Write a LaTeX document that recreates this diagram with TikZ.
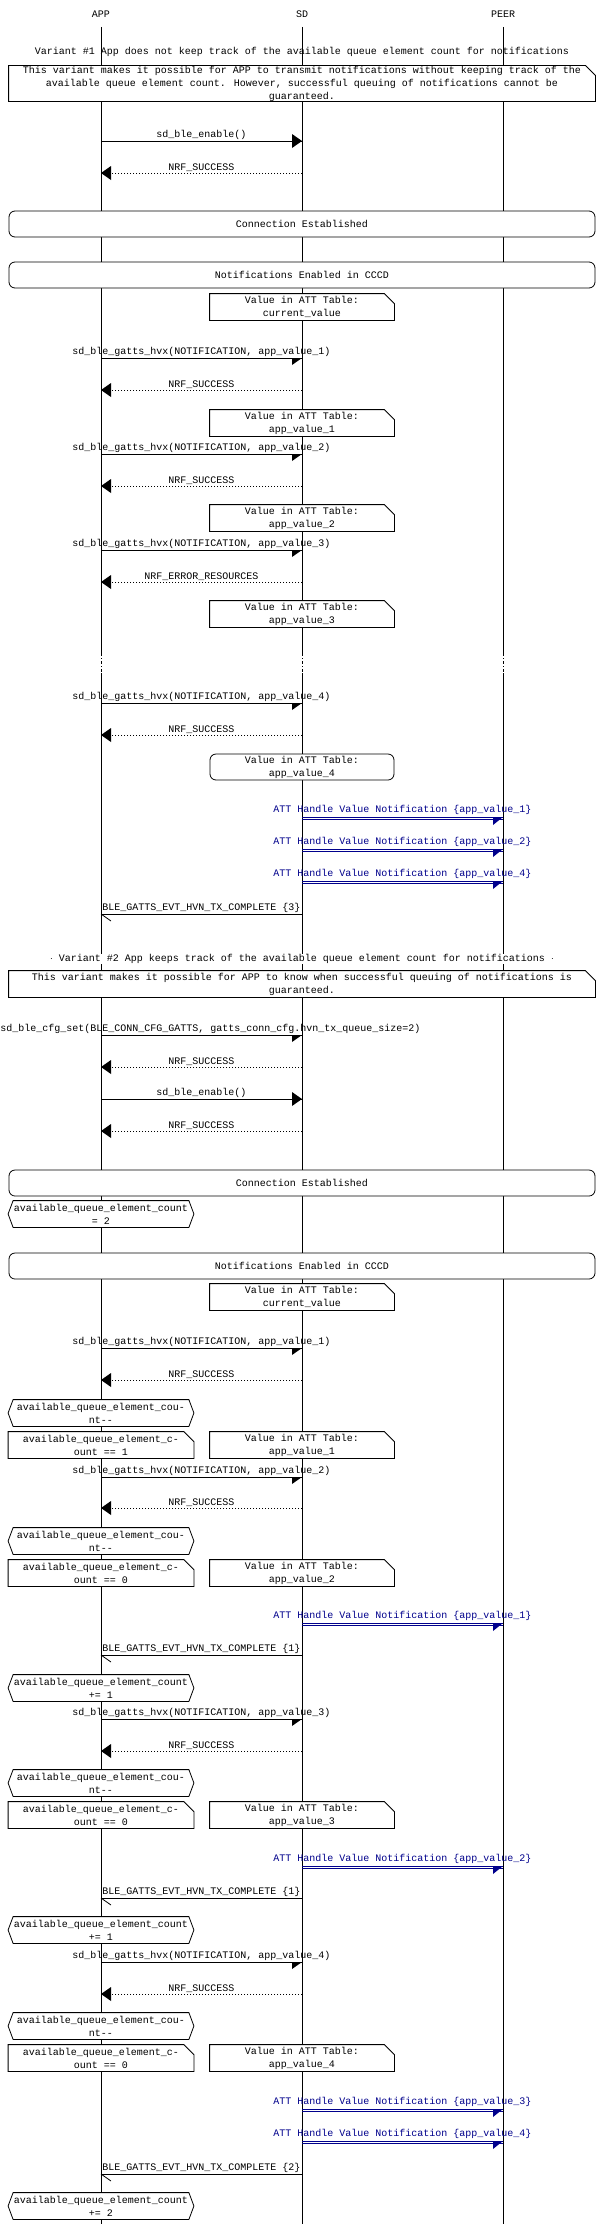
\documentclass[tikz,border=0pt]{standalone}
\usepackage{fontspec}
\setmainfont{Liberation Mono}
\begin{document}
\begin{tikzpicture}[x=1pt,y=-1pt,line width=0.8pt,
  txt/.style={font=\fontsize{10}{13}\selectfont,inner sep=0pt,align=center},
  lbl/.style={txt,anchor=south},
  box/.style={txt,fill=white,minimum height=26pt},
  wide/.style={box,draw,rounded corners=6pt,minimum width=586pt}]
\definecolor{navy}{RGB}{0,0,140}
\useasboundingbox (0,0) rectangle (600,2224);
\fill[white] (0,0) rectangle (600,2224);
% lifelines
\foreach \n/\x/\t in {app/101/APP,sd/302/SD,peer/503/PEER}{
  \node[txt] (h\n) at (\x,14) {\t};
  \coordinate (l\n1) at (\x,27); \coordinate (l\n2) at (\x,653);
  \coordinate (l\n3) at (\x,673); \coordinate (l\n4) at (\x,2224);
  \draw (l\n1) -- (l\n2); \draw[dash pattern=on 3pt off 2pt on 1pt off 2pt] (l\n2) -- (l\n3); \draw (l\n3) -- (l\n4);
}
\newcommand\mynote[5]{\node[box,minimum width=#4] (#1) at (#2,#3) {#5};
  \draw (#1.north west) -- ([xshift=-10pt]#1.north east) -- ([yshift=-10pt]#1.north east) -- (#1.south east) -- (#1.south west) -- cycle;}
\newcommand\myhex[3]{\node[box,minimum width=185pt] (#1) at (101,#2) {#3};
  \draw ([xshift=5pt]#1.north west) -- ([xshift=-5pt]#1.north east) -- (#1.east) -- ([xshift=-5pt]#1.south east) -- ([xshift=5pt]#1.south west) -- (#1.west) -- cycle;}
\newcommand\call[3]{\coordinate (#1a) at (101,#2); \coordinate (#1b) at (302,#2);
  \draw (#1a) -- (#1b) node[lbl,midway,yshift=1pt]{#3};
  \fill (#1b) -- ++(-10,0) -- ++(0,7) -- cycle;}
\newcommand\fcall[3]{\coordinate (#1a) at (101,#2); \coordinate (#1b) at (302,#2);
  \draw (#1a) -- (#1b) node[lbl,midway,yshift=1pt]{#3};
  \fill (#1b) -- ++(-10,-7) -- ++(0,14) -- cycle;}
\newcommand\ret[3]{\coordinate (#1a) at (302,#2); \coordinate (#1b) at (101,#2);
  \draw[dash pattern=on 1.5pt off 1.5pt] (#1a) -- (#1b) node[lbl,midway,yshift=1pt]{#3};
  \fill (#1b) -- ++(10,-7) -- ++(0,14) -- cycle;}
\newcommand\evt[3]{\coordinate (#1a) at (302,#2); \coordinate (#1b) at (101,#2);
  \draw (#1a) -- (#1b) node[lbl,midway,yshift=1pt]{#3};
  \draw (#1b) -- ++(10,7);}
\newcommand\attm[3]{\coordinate (#1a) at (302,#2); \coordinate (#1b) at (503,#2);
  \draw[navy,line width=0.7pt] ([yshift=1pt]#1a) -- ([yshift=1pt]#1b) node[lbl,midway,yshift=2pt,text=navy]{#3};
  \draw[navy,line width=0.7pt] ([yshift=-1pt]#1a) -- ([yshift=-1pt]#1b);
  \fill[navy] ([yshift=1pt]#1b) -- ++(-10,0) -- ++(0,8) -- cycle;}
\def\V{Value in ATT Table:}
% Variant 1
\node[txt] (t1) at (302,52) {Variant \#1 App does not keep track of the available queue element count for notifications};
\mynote{n1}{302}{83.5}{586pt}{This variant makes it possible for APP to transmit notifications without keeping track of the\\available queue element count. However, successful queuing of notifications cannot be\\guaranteed.}
\fcall{m1}{141}{sd\_ble\_enable()}
\ret{m2}{173}{NRF\_SUCCESS}
\node[wide] (c1) at (302,224) {Connection Established};
\node[wide] (c2) at (302,275) {Notifications Enabled in CCCD};
\mynote{v0}{302}{307}{184pt}{\V\\current\_value}
\call{m3}{358}{sd\_ble\_gatts\_hvx(NOTIFICATION, app\_value\_1)}
\ret{m4}{390}{NRF\_SUCCESS}
\mynote{v1}{302}{423}{184pt}{\V\\app\_value\_1}
\call{m5}{454}{sd\_ble\_gatts\_hvx(NOTIFICATION, app\_value\_2)}
\ret{m6}{486}{NRF\_SUCCESS}
\mynote{v2}{302}{518}{184pt}{\V\\app\_value\_2}
\call{m7}{550}{sd\_ble\_gatts\_hvx(NOTIFICATION, app\_value\_3)}
\ret{m8}{582}{NRF\_ERROR\_RESOURCES}
\mynote{v3}{302}{614}{184pt}{\V\\app\_value\_3}
\call{m9}{703}{sd\_ble\_gatts\_hvx(NOTIFICATION, app\_value\_4)}
\ret{m10}{735}{NRF\_SUCCESS}
\node[box,draw,rounded corners=6pt,minimum width=184pt] (v4) at (302,767) {\V\\app\_value\_4};
\attm{p1}{818}{ATT Handle Value Notification \{app\_value\_1\}}
\attm{p2}{850}{ATT Handle Value Notification \{app\_value\_2\}}
\attm{p3}{882}{ATT Handle Value Notification \{app\_value\_4\}}
\evt{e1}{914}{BLE\_GATTS\_EVT\_HVN\_TX\_COMPLETE \{3\}}
% Variant 2
\node[txt,fill=white] (t2) at (302,959) {$\cdot$ Variant \#2 App keeps track of the available queue element count for notifications $\cdot$};
\mynote{n2}{302}{984}{586pt}{This variant makes it possible for APP to know when successful queuing of notifications is\\guaranteed.}
\coordinate (k1a) at (101,1035); \coordinate (k1b) at (302,1035);
\draw (k1a) -- (k1b);
\node[txt,anchor=south west] (k1l) at (0,1034) {sd\_ble\_cfg\_set(BLE\_CONN\_CFG\_GATTS, gatts\_conn\_cfg.hvn\_tx\_queue\_size=2)};
\fill (k1b) -- ++(-10,0) -- ++(0,7) -- cycle;
\ret{k2}{1067}{NRF\_SUCCESS}
\fcall{k3}{1099}{sd\_ble\_enable()}
\ret{k4}{1131}{NRF\_SUCCESS}
\node[wide] (c3) at (302,1183) {Connection Established};
\myhex{x0}{1214}{available\_queue\_element\_count\\= 2}
\node[wide] (c4) at (302,1266) {Notifications Enabled in CCCD};
\mynote{w0}{302}{1297}{184pt}{\V\\current\_value}
\call{k5}{1348}{sd\_ble\_gatts\_hvx(NOTIFICATION, app\_value\_1)}
\ret{k6}{1380}{NRF\_SUCCESS}
\myhex{x1}{1413}{available\_queue\_element\_cou-\\nt-{}-}
\mynote{q1}{101}{1445}{185pt}{available\_queue\_element\_c-\\ount == 1}
\mynote{w1}{302}{1445}{184pt}{\V\\app\_value\_1}
\call{k7}{1477}{sd\_ble\_gatts\_hvx(NOTIFICATION, app\_value\_2)}
\ret{k8}{1508}{NRF\_SUCCESS}
\myhex{x2}{1541}{available\_queue\_element\_cou-\\nt-{}-}
\mynote{q2}{101}{1573}{185pt}{available\_queue\_element\_c-\\ount == 0}
\mynote{w2}{302}{1573}{184pt}{\V\\app\_value\_2}
\attm{r1}{1624}{ATT Handle Value Notification \{app\_value\_1\}}
\evt{e2}{1655}{BLE\_GATTS\_EVT\_HVN\_TX\_COMPLETE \{1\}}
\myhex{x3}{1688}{available\_queue\_element\_count\\+= 1}
\call{k9}{1719}{sd\_ble\_gatts\_hvx(NOTIFICATION, app\_value\_3)}
\ret{k10}{1751}{NRF\_SUCCESS}
\myhex{x4}{1783}{available\_queue\_element\_cou-\\nt-{}-}
\mynote{q3}{101}{1815}{185pt}{available\_queue\_element\_c-\\ount == 0}
\mynote{w3}{302}{1815}{184pt}{\V\\app\_value\_3}
\attm{r2}{1867}{ATT Handle Value Notification \{app\_value\_2\}}
\evt{e3}{1898}{BLE\_GATTS\_EVT\_HVN\_TX\_COMPLETE \{1\}}
\myhex{x5}{1930}{available\_queue\_element\_count\\+= 1}
\call{k11}{1962}{sd\_ble\_gatts\_hvx(NOTIFICATION, app\_value\_4)}
\ret{k12}{1994}{NRF\_SUCCESS}
\myhex{x6}{2026}{available\_queue\_element\_cou-\\nt-{}-}
\mynote{q4}{101}{2058}{185pt}{available\_queue\_element\_c-\\ount == 0}
\mynote{w4}{302}{2058}{184pt}{\V\\app\_value\_4}
\attm{r3}{2110}{ATT Handle Value Notification \{app\_value\_3\}}
\attm{r4}{2142}{ATT Handle Value Notification \{app\_value\_4\}}
\evt{e4}{2174}{BLE\_GATTS\_EVT\_HVN\_TX\_COMPLETE \{2\}}
\myhex{x7}{2206}{available\_queue\_element\_count\\+= 2}
\end{tikzpicture}
\end{document}
